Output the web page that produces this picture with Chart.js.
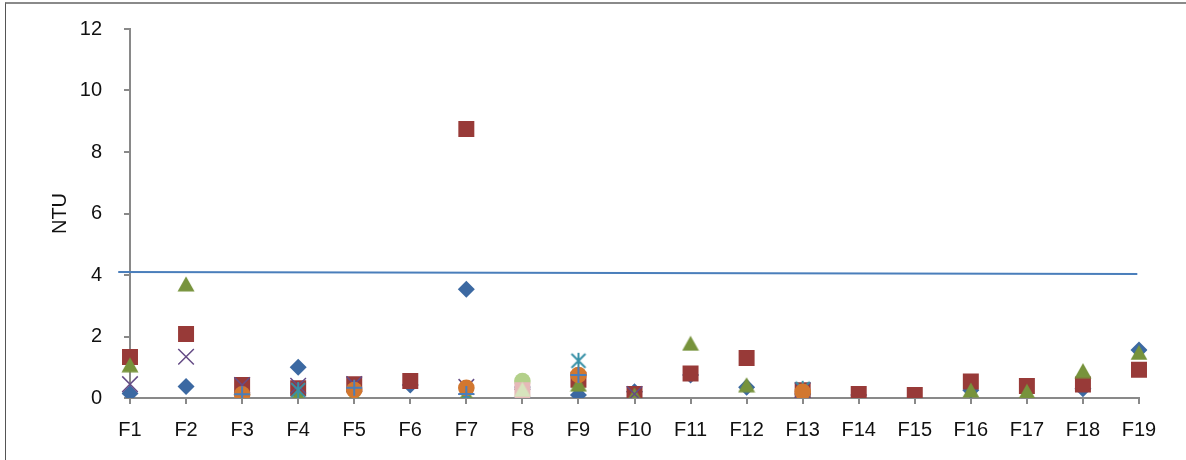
<!DOCTYPE html>
<html>
<head>
<meta charset="utf-8">
<script src="https://cdn.jsdelivr.net/npm/chart.js@4/dist/chart.umd.min.js"></script>
<style>
  html, body { margin: 0; padding: 0; background: #fff; overflow: hidden; }
  #wrap { position: relative; width: 1186px; height: 460px; }
  #frame { position: absolute; left: 5px; top: 2px; width: 1200px; height: 500px;
           border-top: 2px solid #8a8a8a; border-left: 1px solid #555; }
  canvas { position: absolute; left: 0; top: 0; }
</style>
</head>
<body>
<div id="wrap">
  <div id="frame"></div>
  <canvas id="ntuChart" width="1186" height="460"></canvas>
</div>
<script>
// categories
const filtros = ['F1','F2','F3','F4','F5','F6','F7','F8','F9','F10','F11','F12','F13','F14','F15','F16','F17','F18','F19'];
const yTicks = [0, 2, 4, 6, 8, 10, 12];

// series values (NTU), null = no sample
const serie1 = [0.15, 0.37, null, 1.0, null, 0.42, 3.54, 0.02, 0.1, 0.2, 0.75, 0.35, 0.13, 0.1, null, 0.25, null, 0.3, 1.56];
const serie2 = [1.33, 2.08, 0.42, 0.32, 0.45, 0.55, 8.75, null, 0.59, 0.13, 0.8, 1.3, 0.25, 0.13, 0.1, 0.54, 0.39, 0.44, 0.92];
const serie3 = [1.08, 3.71, 0.03, 0.1, 0.05, null, 0.12, null, 0.45, 0.1, 1.78, 0.43, 0.1, null, null, 0.26, 0.22, 0.89, 1.48];
const serie4 = [0.45, 1.34, 0.42, 0.4, 0.45, null, 0.36, 0.05, null, 0.13, null, null, 0.25, null, null, null, null, null, null];
const serie5 = [null, null, null, 0.26, null, null, 0.1, null, 1.21, null, null, null, 0.3, null, null, null, null, null, null];
const serie6 = [null, null, 0.12, null, 0.26, null, 0.33, null, 0.75, null, null, null, 0.2, null, null, null, null, null, null];
const serie7 = [null, null, 0.12, null, 0.33, null, 0.13, 0.35, 0.75, null, null, null, null, null, null, null, null, null, null];
const serie8 = [null, null, null, null, null, null, null, 0.55, null, null, null, null, null, null, null, null, null, null, null];
const serie9 = [null, null, null, null, null, null, null, 0.25, null, null, null, null, null, null, null, null, null, null, null];
const serie10 = [null, null, null, null, null, null, null, 0.28, null, null, null, null, null, null, null, null, null, null, null];

// limit line (4 NTU), drawn from slightly left of F1 to F19
const limiteX = [0.79, 18.97];
const limiteY = [4.1, 4.03];

// marker images
function triangulo(cor) {
    const c = document.createElement('canvas');
    c.width = 18; c.height = 16;
    const g = c.getContext('2d');
    g.fillStyle = cor;
    g.beginPath();
    g.moveTo(9, 0.5); g.lineTo(17.5, 15.5); g.lineTo(0.5, 15.5);
    g.closePath();
    g.fill();
    return c;
}
function estrela(cor) {
    const c = document.createElement('canvas');
    c.width = 18; c.height = 18;
    const g = c.getContext('2d');
    g.strokeStyle = cor;
    g.lineWidth = 2;
    g.beginPath();
    g.moveTo(2, 2); g.lineTo(16, 16);
    g.moveTo(16, 2); g.lineTo(2, 16);
    g.moveTo(9, 1); g.lineTo(9, 17);
    g.stroke();
    return c;
}

function pontos(dados, estilo, raio, cor, borda, i) {
    return {
        data: dados,
        showLine: false,
        pointStyle: estilo,
        pointRadius: raio,
        pointBackgroundColor: cor,
        pointBorderColor: cor,
        pointBorderWidth: borda,
        order: -i
    };
}

const fonte = { family: "'Liberation Sans', Arial, sans-serif", size: 20 };

new Chart(document.getElementById('ntuChart'), {
    type: 'line',
    data: {
        labels: filtros,
        datasets: [
            pontos(serie1, 'rectRot', 8.5, '#3c69a2', 0, 1),
            pontos(serie2, 'rect', 11.3, '#983a38', 0, 2),
            pontos(serie3, triangulo('#77933c'), 9, '#77933c', 0, 3),
            pontos(serie4, 'crossRot', 11, '#654c86', 1.5, 4),
            pontos(serie5, estrela('#3891a7'), 9, '#3891a7', 0, 5),
            pontos(serie6, 'circle', 8.3, '#d2772f', 0, 6),
            pontos(serie7, 'cross', 8, '#4a7ebb', 2, 7),
            pontos(serie8, 'circle', 8.3, '#b3d08a', 0, 8),
            pontos(serie9, 'rect', 11.3, '#e6b9b8', 0, 9),
            pontos(serie10, triangulo('#d7e4bd'), 9, '#d7e4bd', 0, 10),
            {
                data: limiteX.map((x, k) => ({ x: x, y: limiteY[k] })),
                xAxisID: 'xl',
                borderColor: '#4a7ebb',
                borderWidth: 2,
                pointRadius: 0,
                clip: false,
                order: -20
            }
        ]
    },
    options: {
        responsive: false,
        animation: false,
        events: [],
        layout: { autoPadding: false, padding: { left: 48, top: 29, right: 47, bottom: 0 } },
        plugins: { legend: { display: false }, tooltip: { enabled: false } },
        scales: {
            x: {
                type: 'category',
                offset: false,
                afterFit: function (s) { s.height = 62; },
                grid: { drawOnChartArea: false, tickLength: 6, color: '#898989', lineWidth: 2 },
                border: { color: '#898989', width: 2 },
                ticks: { color: '#111', font: fonte, padding: 14, maxRotation: 0, autoSkip: false }
            },
            xl: {
                type: 'linear',
                display: false,
                min: 1,
                max: 19
            },
            y: {
                min: 0,
                max: 12,
                afterFit: function (s) {
                    s.width = 82;
                    // tick padding would otherwise push the plot top down
                    s.paddingTop = 0;
                    s.paddingBottom = 0;
                },
                afterBuildTicks: function (s) { s.ticks = yTicks.map(v => ({ value: v })); },
                grid: { drawOnChartArea: false, tickLength: 6, color: '#898989', lineWidth: 2 },
                border: { color: '#898989', width: 2 },
                ticks: { color: '#111', font: fonte, padding: 22 },
                title: { display: true, text: 'NTU', color: '#111', font: fonte, padding: { top: 0, bottom: 9 } }
            }
        }
    }
});
</script>
</body>
</html>
